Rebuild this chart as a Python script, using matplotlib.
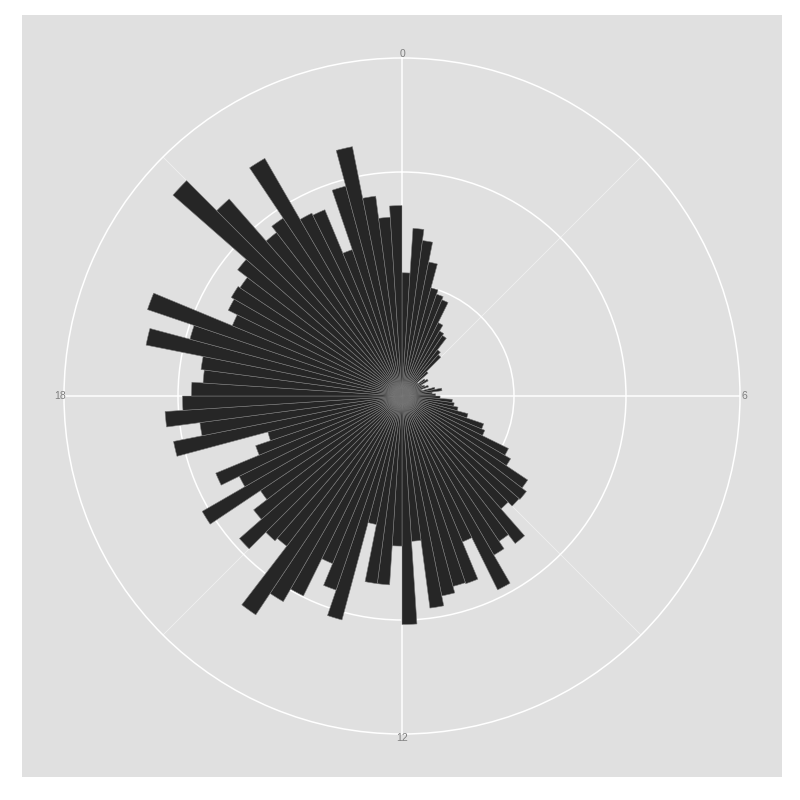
import numpy as np
import matplotlib
matplotlib.use("Agg")
import matplotlib.pyplot as plt
from matplotlib.patches import Rectangle

# ---- data: 15-minute bins over 24 hours (bin start, in hours) ----
bin_width_h = 0.25
bin_start_h = np.arange(0, 24, bin_width_h)
counts = [
    11.0, 15.0, 14.0, 12.2, 10.0, 9.6, 9.3, 7.3, 6.7, 6.5, 5.2, 4.9,
    3.1, 1.8, 2.5, 2.7, 2.0, 2.2, 2.5, 1.8, 3.0, 3.6, 2.7, 3.0,
    3.4, 4.5, 4.7, 5.1, 6.1, 7.7, 8.0, 10.6, 11.2, 13.5, 14.0, 13.9,
    13.4, 16.6, 15.6, 16.4, 19.3, 14.1, 17.7, 17.6, 18.2, 19.1, 13.0, 20.4,
    13.4, 16.9, 16.9, 11.7, 20.7, 18.3, 16.2, 19.9, 21.2, 23.5, 16.9, 17.2,
    19.3, 16.7, 15.2, 20.6, 16.2, 18.0, 13.8, 12.4, 20.8, 18.2, 21.2, 19.6,
    18.8, 17.8, 18.1, 23.3, 19.6, 24.0, 16.4, 17.3, 17.6, 17.4, 18.5, 27.2,
    23.4, 18.4, 19.1, 24.5, 18.2, 18.0, 13.8, 19.4, 22.7, 18.0, 16.0, 17.0,
]
major_hours = [0, 6, 12, 18]
major_labels = ["0", "6", "12", "18"]
minor_hours = [3, 9, 15, 21]
r_breaks = [10, 20]
r_outer = 30.18
r_label = 30.55

def h2rad(h):
    return np.asarray(h, dtype=float) * 2 * np.pi / 24

fig = plt.figure(figsize=(8, 8), dpi=100, facecolor="white")
panel = Rectangle((22 / 800, 1 - 777 / 800), 760 / 800, 762 / 800,
                  transform=fig.transFigure, facecolor="#E0E0E0",
                  edgecolor="none", zorder=-5)
fig.patches.append(panel)

ax = fig.add_axes([0.08, 0.0825, 0.845, 0.845], projection="polar")
ax.patch.set_visible(False)
ax.set_theta_zero_location("N")
ax.set_theta_direction(-1)

ax.bar(h2rad(bin_start_h + bin_width_h / 2), counts, width=h2rad(bin_width_h),
       color="#262626", edgecolor="#7a7a7a", linewidth=0.4, zorder=3)

ax.set_ylim(0, r_outer)
ax.set_yticks(r_breaks)
ax.set_yticklabels([])
ax.set_xticks(h2rad(major_hours))
ax.set_xticklabels([])
ax.set_xticks(h2rad(minor_hours), minor=True)
ax.tick_params(axis="x", which="both", length=0)
ax.tick_params(axis="y", length=0)
ax.xaxis.grid(True, which="major", color="white", linewidth=1.1)
ax.xaxis.grid(True, which="minor", color="#F2F2F2", linewidth=0.5)
ax.yaxis.grid(True, color="white", linewidth=1.1)
ax.spines["polar"].set_color("white")
ax.spines["polar"].set_linewidth(1.1)
ax.set_axisbelow(True)

for h, lab in zip(major_hours, major_labels):
    ax.text(h2rad(h), r_label, lab, ha="center", va="center", fontsize=7.5,
            color="#7F7F7F", family=["Liberation Sans", "DejaVu Sans"],
            clip_on=False)

fig.savefig("out.png", dpi=100, facecolor="white")
